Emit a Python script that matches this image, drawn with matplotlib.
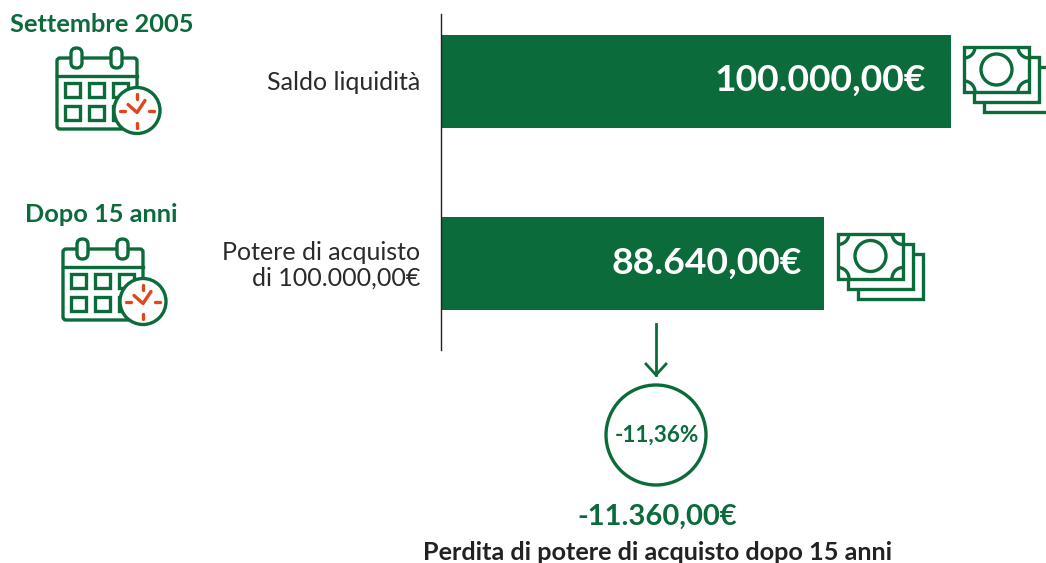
import matplotlib
matplotlib.use("Agg")
import matplotlib.pyplot as plt
from matplotlib.patches import Rectangle, FancyBboxPatch, Circle
from matplotlib.transforms import Affine2D

categories = ["Saldo liquidità", "Potere di acquisto\ndi 100.000,00€"]
values = [100000.0, 88640.0]
value_labels = ["100.000,00€", "88.640,00€"]
loss_value = "-11.360,00€"
loss_pct = "-11,36%"
dates = ["Settembre 2005", "Dopo 15 anni"]
caption = "Perdita di potere di acquisto dopo 15 anni"

GREEN = "#0C6B3A"
ORANGE = "#E2451C"
DARK = "#222222"
FONT = "Lato"
W, H = 1046, 563
plt.rcParams["font.family"] = FONT

fig = plt.figure(figsize=(W / 100, H / 100), dpi=100, facecolor="white")

# bar axes: the reference draws bars on a truncated baseline
ax = fig.add_axes([441 / W, 1 - 350 / H, 510 / W, 336 / H])
ax.patch.set_visible(False)
ax.barh(range(2), values, height=93 / 182, color=GREEN)
ax.set_xlim(54381, 100000)
ax.set_ylim(1.475, -0.371)
for s in ("top", "right", "bottom"):
    ax.spines[s].set_visible(False)
ax.spines["left"].set_color(DARK)
ax.spines["left"].set_linewidth(1.0)
ax.set_xticks([])
ax.set_yticks(range(2))
ax.set_yticklabels(categories, fontsize=18, color="#2a2a2a", ha="right", linespacing=1.13)
ax.tick_params(axis="y", length=0, pad=15)
for lab in ax.get_yticklabels():
    lab.set_transform(lab.get_transform() + Affine2D().translate(0, 1.5))
for i, (v, lab) in enumerate(zip(values, value_labels)):
    ax.annotate(lab, (v, i), xytext=(-18 if i == 0 else -16, 0.6 if i == 0 else 0), textcoords="offset points",
                ha="right", va="center", color="white", fontsize=26.8, fontweight="bold")

# pixel overlay for icons and free text
ov = fig.add_axes([0, 0, 1, 1], zorder=5)
ov.set_xlim(0, W)
ov.set_ylim(H, 0)
ov.axis("off")
LW = 2.4


def calendar(dx, dy):
    ov.add_patch(FancyBboxPatch((57 + dx, 58 + dy), 80, 71, boxstyle="round,pad=0,rounding_size=3",
                                fc="white", ec=GREEN, lw=LW))
    ov.plot([57 + dx, 137 + dx], [76 + dy, 76 + dy], color=GREEN, lw=LW)
    for x in (71, 111):
        ov.add_patch(FancyBboxPatch((x + dx, 48 + dy), 11, 20, boxstyle="round,pad=0,rounding_size=5.5",
                                    fc="white", ec=GREEN, lw=LW))
    for y in (83, 106):
        for x in (65, 89, 113):
            ov.add_patch(Rectangle((x + dx, y + dy), 15, 14, fc="white", ec=GREEN, lw=LW))
    cx, cy = 137 + dx, 110.5 + dy
    ov.add_patch(Circle((cx, cy), 23, fc="white", ec=GREEN, lw=LW, zorder=4))
    for a, b, c, d in ((0, -17, 0, -12), (0, 12, 0, 17), (-17, 0, -12, 0), (12, 0, 17, 0)):
        ov.plot([cx + a, cx + c], [cy + b, cy + d], color=ORANGE, lw=2.4, solid_capstyle="round", zorder=5)
    ov.plot([cx - 9, cx, cx + 8], [cy - 6, cy + 2, cy - 10], color=ORANGE, lw=2.4,
            solid_capstyle="round", solid_joinstyle="round", zorder=5)


def money(dx, dy):
    for off in (20, 10):
        ov.add_patch(Rectangle((964 + off + dx, 47 + off + dy), 65, 45, fc="white", ec=GREEN, lw=LW))
    front = Rectangle((964 + dx, 47 + dy), 65, 45, fc="white", ec=GREEN, lw=LW)
    ov.add_patch(front)
    for x in (964, 1029):
        for y in (47, 92):
            c = Circle((x + dx, y + dy), 11, fc="none", ec=GREEN, lw=LW)
            ov.add_patch(c)
            c.set_clip_path(front)
    ov.add_patch(Circle((996.5 + dx, 69.5 + dy), 15.5, fc="none", ec=GREEN, lw=LW))


calendar(0, 0)
calendar(6, 191)
money(0, 0)
money(-126, 186.5)

ov.text(102, 24, dates[0], ha="center", va="center", color=GREEN, fontsize=18.3, fontweight="bold")
ov.text(101, 214, dates[1], ha="center", va="center", color=GREEN, fontsize=18.3, fontweight="bold")

# arrow and circle
ov.plot([656, 656], [324, 375], color=GREEN, lw=LW - 0.4)
ov.plot([646, 656, 666], [364, 375, 364], color=GREEN, lw=LW - 0.4)
ov.add_patch(Circle((656, 435), 50, fc="white", ec=GREEN, lw=LW))
ov.text(657, 435.5, loss_pct, ha="center", va="center", color=GREEN, fontsize=16.2, fontweight="bold")
ov.text(657.5, 517, loss_value, ha="center", va="center", color=GREEN, fontsize=21, fontweight="bold")
ov.text(657.5, 552.5, caption, ha="center", va="center", color="#222222", fontsize=18.2, fontweight="bold")

fig.savefig("out.png", dpi=100, facecolor="white")
